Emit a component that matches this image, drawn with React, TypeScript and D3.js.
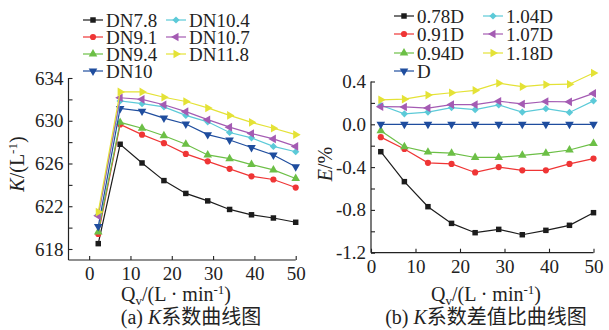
import React, { useEffect, useRef } from 'react';
import * as d3 from 'd3';

const qv = [2.2, 7.5, 12.8, 18.1, 23.4, 28.7, 34.0, 39.3, 44.6, 50.0];

const kNames = ["DN7.8", "DN9.1", "DN9.4", "DN10", "DN10.4", "DN10.7", "DN11.8"];
const eNames = ["0.78D", "0.91D", "0.94D", "D", "1.04D", "1.07D", "1.18D"];

const kDN78 = [618.5, 627.8, 626.05, 624.4, 623.2, 622.5, 621.7, 621.2, 620.9, 620.5];
const kDN91 = [619.4, 629.65, 628.7, 627.9, 626.9, 626.2, 625.5, 624.8, 624.5, 623.75];
const kDN94 = [619.6, 629.85, 629.3, 628.6, 627.8, 626.8, 626.45, 625.9, 625.4, 624.6];
const kDN10 = [620.1, 631.15, 630.9, 630.25, 629.7, 628.7, 628.2, 627.5, 626.8, 625.7];
const kDN104 = [621.2, 631.85, 631.6, 631.3, 630.5, 629.9, 628.9, 628.4, 627.6, 627.1];
const kDN107 = [621.1, 632.15, 632.0, 631.5, 630.85, 630.1, 629.4, 628.8, 628.3, 627.6];
const kDN118 = [621.45, 632.7, 632.7, 632.2, 631.8, 631.2, 630.5, 629.85, 629.3, 628.7];

const e078 = [-0.256, -0.536, -0.77, -0.926, -1.013, -0.982, -1.032, -0.991, -0.944, -0.826];
const e091 = [-0.12, -0.23, -0.36, -0.37, -0.45, -0.40, -0.43, -0.43, -0.37, -0.32];
const e094 = [-0.06, -0.21, -0.26, -0.27, -0.31, -0.31, -0.29, -0.27, -0.24, -0.18];
const e100 = [0, 0, 0, 0, 0, 0, 0, 0, 0, 0];
const e104 = [0.178, 0.098, 0.114, 0.156, 0.137, 0.181, 0.114, 0.146, 0.111, 0.219];
const e107 = [0.165, 0.162, 0.152, 0.184, 0.184, 0.216, 0.19, 0.213, 0.21, 0.289];
const e118 = [0.229, 0.235, 0.273, 0.295, 0.317, 0.384, 0.352, 0.371, 0.375, 0.479];

const kSeries = [kDN78, kDN91, kDN94, kDN10, kDN104, kDN107, kDN118];
const eSeries = [e078, e091, e094, e100, e104, e107, e118];

const kTicks = [618, 620, 622, 624, 626, 628, 630, 632, 634];
const eTicks = [-1.2, -1.0, -0.8, -0.6, -0.4, -0.2, 0, 0.2, 0.4];
const xTicks = [0, 10, 20, 30, 40, 50];

const palette = ["#1c1c1c", "#ef3535", "#6cbf46", "#1f4d9e", "#5ccad8", "#a45bb3", "#e4e236"];
// square, circle, up, down, diamond, left, right
const markers = [
  { type: d3.symbolSquare, rot: 0, size: 30 },
  { type: d3.symbolCircle, rot: 0, size: 30 },
  { type: d3.symbolTriangle, rot: 0, size: 32 },
  { type: d3.symbolTriangle, rot: 180, size: 32 },
  { type: d3.symbolSquare, rot: 45, size: 26 },
  { type: d3.symbolTriangle, rot: -90, size: 32 },
  { type: d3.symbolTriangle, rot: 90, size: 32 },
];

const FONT = "'Liberation Serif', 'Times New Roman', 'Noto Sans CJK SC', serif";
const W = 609;
const H = 330;

export default function App() {
  const svgRef = useRef<SVGSVGElement>(null);

  useEffect(() => {
    if (!svgRef.current) return;
    const svg = d3.select(svgRef.current);
    svg.selectAll("*").remove();

    const panel = (opt: {
      x: d3.ScaleLinear<number, number>;
      y: d3.ScaleLinear<number, number>;
      series: number[][];
      names: string[];
      yTicks: number[];
      yLabel: (v: number) => string;
      legendX: number[];
      legendY: number[];
      legendCols: number[][];
    }) => {
      const { x, y } = opt;
      const g = svg.append("g");
      const [x0, x1] = x.range();
      const [yb, yt] = y.range();

      // y axis, ticks pointing inward
      const ya = g.append("g").attr("transform", `translate(${x0},0)`)
        .call(d3.axisLeft(y).tickValues(opt.yTicks).tickSize(-4).tickPadding(5).tickFormat(d => opt.yLabel(+d)));
      ya.select(".domain").attr("d", `M0,${yt}V${yb}`).attr("stroke", "#222").attr("stroke-width", 1.2);
      ya.selectAll(".tick line").attr("stroke", "#222").attr("stroke-width", 1.1);
      ya.selectAll("text").attr("fill", "#222").style("font-family", FONT).style("font-size", "19px");

      // x axis
      const xa = g.append("g").attr("transform", `translate(0,${yb})`)
        .call(d3.axisBottom(x).tickValues(xTicks).tickSize(-4).tickPadding(5).tickFormat(d3.format("d")));
      xa.select(".domain").attr("d", `M${x0},0H${x1}`).attr("stroke", "#222").attr("stroke-width", 1.2);
      xa.selectAll(".tick line").attr("stroke", "#222").attr("stroke-width", 1.1);
      xa.selectAll("text").attr("fill", "#222").attr("dy", "0.78em").style("font-family", FONT).style("font-size", "19px");

      const line = d3.line<number>().x((_, i) => x(qv[i])).y(d => y(d));
      opt.series.forEach((s, si) => {
        g.append("path").datum(s).attr("d", line).attr("fill", "none")
          .attr("stroke", palette[si]).attr("stroke-width", 1.2);
        const m = markers[si];
        g.append("g").selectAll("path").data(s).enter().append("path")
          .attr("d", d3.symbol().type(m.type).size(m.size)())
          .attr("transform", (d, i) => `translate(${x(qv[i])},${y(d)}) rotate(${m.rot})`)
          .attr("fill", palette[si]);
      });

      // legend
      opt.legendCols.forEach((col, ci) => {
        col.forEach((si, ri) => {
          const lx = opt.legendX[ci];
          const ly = opt.legendY[ri];
          const lg = g.append("g").attr("transform", `translate(${lx},${ly})`);
          lg.append("line").attr("x1", 0).attr("x2", 20).attr("stroke", palette[si]).attr("stroke-width", 1.2);
          const m = markers[si];
          lg.append("path").attr("d", d3.symbol().type(m.type).size(m.size)())
            .attr("transform", `translate(10,0) rotate(${m.rot})`).attr("fill", palette[si]);
          lg.append("text").attr("x", 23).attr("y", 6.5).attr("fill", "#222")
            .style("font-family", FONT).style("font-size", "19px").text(opt.names[si]);
        });
      });
      return g;
    };

    // (a)
    const xa = d3.scaleLinear().domain([-5, 50]).range([68.5, 295.7]);
    const ya = d3.scaleLinear().domain([616.97, 634]).range([260, 78]);
    panel({
      x: xa, y: ya, series: kSeries, names: kNames, yTicks: kTicks,
      yLabel: v => ((v - 618) % 4 === 0 ? String(v) : ""),
      legendX: [83, 166], legendY: [20, 37, 54, 71], legendCols: [[0, 1, 2, 3], [4, 5, 6]],
    });

    // (b)
    const xb = d3.scaleLinear().domain([0, 50]).range([371, 593.5]);
    const yb = d3.scaleLinear().domain([-1.2, 0.4]).range([252.7, 81.5]);
    panel({
      x: xb, y: yb, series: eSeries, names: eNames, yTicks: eTicks,
      yLabel: v => (Math.round(v * 10) % 4 === 0 ? d3.format(".1f")(v).replace("\u2212", "-") : ""),
      legendX: [394, 483], legendY: [16, 34, 53, 71], legendCols: [[0, 1, 2, 3], [4, 5, 6]],
    });

    const txt = (x: number, y: number) => svg.append("text").attr("x", x).attr("y", y)
      .attr("text-anchor", "middle").attr("fill", "#222")
      .style("font-family", FONT).style("font-size", "20px");

    // x titles
    [176, 486].forEach(cx => {
      const t = txt(cx, 301);
      t.append("tspan").text("Q");
      t.append("tspan").attr("dy", 4).style("font-size", "13px").text("v");
      t.append("tspan").attr("dy", -4).text("/(L · min");
      t.append("tspan").attr("dy", -7).style("font-size", "13px").text("-1");
      t.append("tspan").attr("dy", 7).text(")");
    });

    // y titles
    const ky = txt(0, 0).attr("transform", "translate(24,164) rotate(-90)");
    ky.append("tspan").style("font-style", "italic").text("K");
    ky.append("tspan").text("/(L");
    ky.append("tspan").attr("dy", -7).style("font-size", "13px").text("-1");
    ky.append("tspan").attr("dy", 7).text(")");

    const ey = txt(0, 0).attr("transform", "translate(332,164) rotate(-90)");
    ey.append("tspan").style("font-style", "italic").text("E");
    ey.append("tspan").text("/%");

    // captions
    const ca = txt(191, 324);
    ca.append("tspan").text("(a) ");
    ca.append("tspan").style("font-style", "italic").text("K");
    ca.append("tspan").text("系数曲线图");

    const cb = txt(486, 324);
    cb.append("tspan").text("(b) ");
    cb.append("tspan").style("font-style", "italic").text("K");
    cb.append("tspan").text("系数差值比曲线图");
  }, []);

  return (
    <svg ref={svgRef} width={W} height={H} viewBox={`0 0 ${W} ${H}`}
      style={{ position: "absolute", left: 0, top: 0, background: "#fff" }} />
  );
}
